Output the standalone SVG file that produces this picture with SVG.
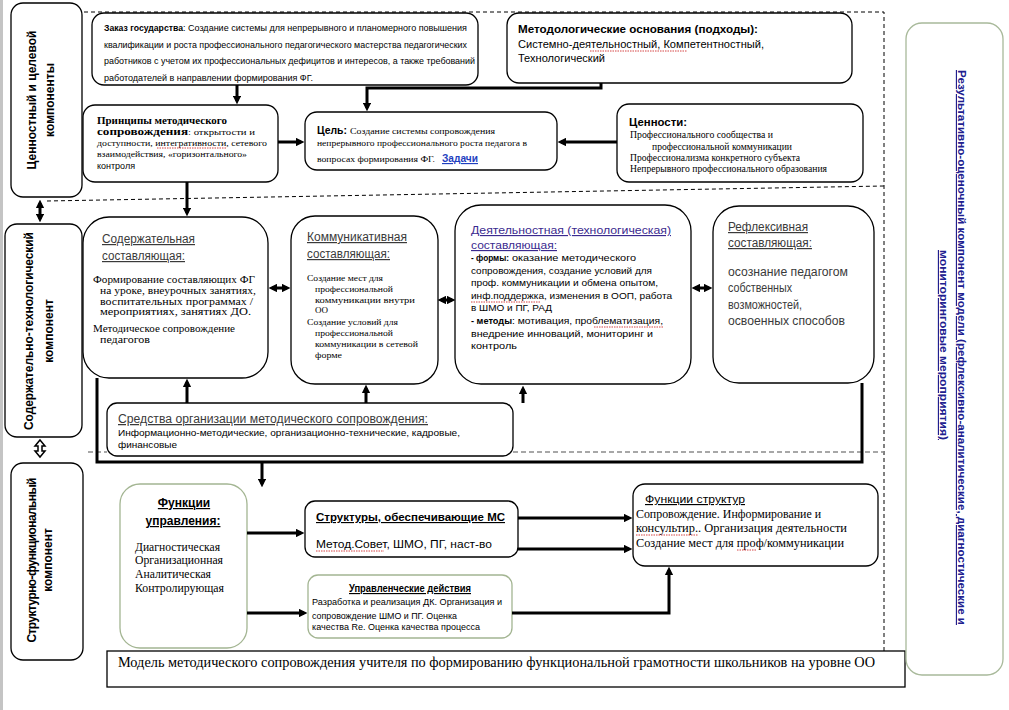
<svg xmlns="http://www.w3.org/2000/svg" width="1009" height="710" viewBox="0 0 1009 710">
<style>
.box{fill:#fff;stroke:#000;stroke-width:1.3}
.gbox{fill:#fff;stroke:#a3b592;stroke-width:1.3}
.conn{stroke:#000;stroke-width:3;fill:none}
.dash{stroke:#000;stroke-width:1;stroke-dasharray:4 3;fill:none}
.gdash{stroke:#8a8a8a;stroke-width:1.5;stroke-dasharray:5 3;fill:none}
.sq{stroke:#d03030;stroke-width:0.9;stroke-dasharray:1.5 1;fill:none}
text{font-family:"Liberation Sans",Arial,sans-serif;fill:#000}
.r{font-family:"Liberation Serif","Times New Roman",serif}
.b{font-weight:bold}
.u{text-decoration:underline}
.gr{fill:#3a3a3a}
</style>
<defs>
<marker id="ah" viewBox="0 0 10 10" refX="6" refY="5" markerWidth="2.8" markerHeight="2.8" orient="auto-start-reverse" markerUnits="strokeWidth"><path d="M0,0 L10,5 L0,10 z" fill="#000"/></marker>
</defs>
<rect x="0" y="0" width="3" height="710" fill="#c4c4c4"/>

<!-- section dividers -->
<g id="dividers">
<path class="dash" d="M70,12 H884 V651"/>
<path class="dash" d="M47,201 L884,186"/>
<path class="gdash" d="M88,452 H107 M513,452 H884"/>
</g>

<!-- left component labels -->
<g id="n-left1"><rect class="box" x="11" y="3" width="71" height="194" rx="12"/>
<text class="b" font-size="12" text-anchor="middle" transform="translate(36,100) rotate(-90)">Ценностный и целевой</text>
<text class="b" font-size="12" text-anchor="middle" transform="translate(54,100) rotate(-90)">компоненты</text></g>
<g id="n-left2"><rect class="box" x="5" y="224" width="77" height="213" rx="12"/>
<text class="b" font-size="12" text-anchor="middle" textLength="198" transform="translate(33,331) rotate(-90)">Содержательно-технологический</text>
<text class="b" font-size="12" text-anchor="middle" transform="translate(53,331) rotate(-90)">компонент</text></g>
<g id="n-left3"><rect class="box" x="11" y="463" width="72" height="197" rx="12"/>
<text class="b" font-size="12" text-anchor="middle" textLength="165" transform="translate(36,560) rotate(-90)">Структурно-функциональный</text>
<text class="b" font-size="12" text-anchor="middle" transform="translate(52,560) rotate(-90)">компонент</text></g>

<!-- top row -->
<g id="n-zakaz"><rect class="box" x="92" y="13" width="386" height="72" rx="12"/>
<text class="b" x="104" y="31" font-size="9.5" textLength="79" lengthAdjust="spacingAndGlyphs">Заказ государства</text>
<text x="183" y="31" font-size="9.5" textLength="284" lengthAdjust="spacingAndGlyphs">: Создание системы для непрерывного и планомерного повышения</text>
<text x="104" y="48" font-size="9.5" textLength="363" lengthAdjust="spacingAndGlyphs">квалификации и роста профессионального педагогического мастерства педагогических</text>
<text x="104" y="64" font-size="9.5" textLength="371" lengthAdjust="spacingAndGlyphs">работников с учетом их профессиональных дефицитов и интересов, а также требований</text>
<text x="104" y="81" font-size="9.5" textLength="209" lengthAdjust="spacingAndGlyphs">работодателей в направлении формирования ФГ.</text></g>

<g id="n-metod"><rect class="box" x="507" y="13" width="345" height="70" rx="12"/>
<text class="b" x="518" y="33" font-size="11.5" textLength="240" lengthAdjust="spacingAndGlyphs">Методологические основания  (подходы):</text>
<text x="518" y="48" font-size="11" textLength="246" lengthAdjust="spacingAndGlyphs">Системно-деятельностный,  Компетентностный,</text>
<text x="518" y="62" font-size="11" textLength="87" lengthAdjust="spacingAndGlyphs">Технологический</text>
<path class="sq" d="M590,51 H687"/></g>

<g id="n-princip"><rect class="box" x="83" y="105" width="195" height="77" rx="12"/>
<text class="r b" x="97" y="124" font-size="10.5" textLength="130" lengthAdjust="spacingAndGlyphs">Принципы методического</text>
<text class="r b" x="97" y="135" font-size="10.5" textLength="91" lengthAdjust="spacingAndGlyphs">сопровождения</text>
<text class="r" x="188" y="135" font-size="9" textLength="67" lengthAdjust="spacingAndGlyphs">:  открытости и</text>
<text class="r" x="97" y="146" font-size="9" textLength="170" lengthAdjust="spacingAndGlyphs">доступности,  интегративности,  сетевого</text>
<text class="r" x="97" y="157" font-size="9" textLength="150" lengthAdjust="spacingAndGlyphs">взаимодействия, «горизонтального»</text>
<text x="97" y="169" font-size="8.5" textLength="38" lengthAdjust="spacingAndGlyphs">контроля</text>
<path class="sq" d="M157,148 H226"/></g>

<g id="n-cel"><rect class="box" x="305" y="112" width="252" height="58" rx="12"/>
<text class="b" x="317" y="134" font-size="11.5" textLength="30" lengthAdjust="spacingAndGlyphs">Цель:</text>
<text class="r" x="350" y="134" font-size="9" textLength="145" lengthAdjust="spacingAndGlyphs">Создание системы  сопровождения</text>
<text class="r" x="317" y="146" font-size="9" textLength="210" lengthAdjust="spacingAndGlyphs">непрерывного профессионального роста педагога в</text>
<text class="r" x="317" y="162" font-size="9" textLength="118" lengthAdjust="spacingAndGlyphs">вопросах формирования ФГ.</text>
<text class="b u" x="442" y="162" font-size="11.5" fill="#1f3fbf" style="fill:#1f3fbf" textLength="36" lengthAdjust="spacingAndGlyphs">Задачи</text></g>

<g id="n-cennosti"><rect class="box" x="617" y="104" width="246" height="78" rx="12"/>
<text class="b" x="629" y="126" font-size="11.5" textLength="58" lengthAdjust="spacingAndGlyphs">Ценности:</text>
<text class="r" x="630" y="138" font-size="9.5" textLength="143" lengthAdjust="spacingAndGlyphs">Профессионального сообщества  и</text>
<text class="r" x="652" y="150" font-size="9.5" textLength="140" lengthAdjust="spacingAndGlyphs">профессиональной коммуникации</text>
<text class="r" x="630" y="161" font-size="9.5" textLength="170" lengthAdjust="spacingAndGlyphs">Профессионализма конкретного субъекта</text>
<text class="r" x="630" y="172" font-size="9.5" textLength="197" lengthAdjust="spacingAndGlyphs">Непрерывного профессионального образования</text></g>

<!-- middle row -->
<g id="n-soderzh"><rect class="box" x="83" y="217" width="185" height="161" rx="26"/>
<text class="u gr" x="102" y="243" font-size="12" textLength="93" lengthAdjust="spacingAndGlyphs">Содержательная</text>
<text class="u gr" x="102" y="260" font-size="12" textLength="83" lengthAdjust="spacingAndGlyphs">составляющая:</text>
<text class="r" x="93" y="283" font-size="10.5" textLength="162" lengthAdjust="spacingAndGlyphs">Формирование составляющих ФГ</text>
<text class="r" x="100" y="294" font-size="10.5" textLength="156" lengthAdjust="spacingAndGlyphs">на уроке, внеурочных занятиях,</text>
<text class="r" x="100" y="305" font-size="10.5" textLength="153" lengthAdjust="spacingAndGlyphs">воспитательных программах /</text>
<text class="r" x="100" y="315" font-size="10.5" textLength="151" lengthAdjust="spacingAndGlyphs">мероприятиях, занятиях ДО.</text>
<text class="r" x="93" y="332" font-size="10.5" textLength="142" lengthAdjust="spacingAndGlyphs">Методическое сопровождение</text>
<text class="r" x="100" y="343" font-size="10.5" textLength="50" lengthAdjust="spacingAndGlyphs">педагогов</text></g>

<g id="n-kommun"><rect class="box" x="291" y="216" width="147" height="168" rx="24"/>
<text class="u gr" x="307" y="241" font-size="12" textLength="100" lengthAdjust="spacingAndGlyphs">Коммуникативная</text>
<text class="u gr" x="307" y="258" font-size="12" textLength="83" lengthAdjust="spacingAndGlyphs">составляющая:</text>
<text class="r" x="307" y="281" font-size="8.8" textLength="76" lengthAdjust="spacingAndGlyphs">Создание мест для</text>
<text class="r" x="315" y="292" font-size="8.8" textLength="78" lengthAdjust="spacingAndGlyphs">профессиональной</text>
<text class="r" x="315" y="303" font-size="8.8" textLength="100" lengthAdjust="spacingAndGlyphs">коммуникации  внутри</text>
<text class="r" x="315" y="313" font-size="8.8" textLength="13" lengthAdjust="spacingAndGlyphs">ОО</text>
<text class="r" x="307" y="325" font-size="8.8" textLength="91" lengthAdjust="spacingAndGlyphs">Создание условий для</text>
<text class="r" x="315" y="336" font-size="8.8" textLength="78" lengthAdjust="spacingAndGlyphs">профессиональной</text>
<text class="r" x="315" y="347" font-size="8.8" textLength="103" lengthAdjust="spacingAndGlyphs">коммуникации  в сетевой</text>
<text class="r" x="315" y="358" font-size="8.8" textLength="27" lengthAdjust="spacingAndGlyphs">форме</text></g>

<g id="n-deyat"><rect class="box" x="455" y="205" width="236" height="179" rx="26"/>
<text class="u" x="471" y="234" font-size="11.5" style="fill:#3b2a8f" textLength="200" lengthAdjust="spacingAndGlyphs">Деятельностная (технологическая)</text>
<text class="u" x="471" y="249" font-size="11.5" style="fill:#3b2a8f" textLength="86" lengthAdjust="spacingAndGlyphs">составляющая:</text>
<text class="b" x="471" y="261" font-size="9.8" textLength="38" lengthAdjust="spacingAndGlyphs">- формы:</text>
<text x="512" y="261" font-size="9.8" textLength="124" lengthAdjust="spacingAndGlyphs">оказание методического</text>
<text x="471" y="274" font-size="9.8" textLength="181" lengthAdjust="spacingAndGlyphs">сопровождения, создание условий для</text>
<text x="471" y="286" font-size="9.8" textLength="187" lengthAdjust="spacingAndGlyphs">проф. коммуникации и обмена опытом,</text>
<text x="471" y="299" font-size="9.8" textLength="201" lengthAdjust="spacingAndGlyphs">инф.поддержка, изменения в ООП, работа</text>
<text x="471" y="311" font-size="9.8" textLength="81" lengthAdjust="spacingAndGlyphs">в ШМО и ПГ, РАД</text>
<text class="b" x="471" y="324" font-size="9.8" textLength="41" lengthAdjust="spacingAndGlyphs">- методы</text>
<text x="512" y="324" font-size="9.8" textLength="151" lengthAdjust="spacingAndGlyphs">: мотивация, проблематизация,</text>
<text x="471" y="337" font-size="9.8" textLength="182" lengthAdjust="spacingAndGlyphs">внедрение инноваций, мониторинг и</text>
<text x="471" y="349" font-size="9.8" textLength="46" lengthAdjust="spacingAndGlyphs">контроль</text>
<path class="sq" d="M471,302 H541 M594,327 H663"/></g>

<g id="n-refl"><rect class="box" x="713" y="206" width="161" height="177" rx="26"/>
<text class="u gr" x="728" y="231" font-size="12" textLength="80" lengthAdjust="spacingAndGlyphs">Рефлексивная</text>
<text class="u gr" x="728" y="247" font-size="12" textLength="84" lengthAdjust="spacingAndGlyphs">составляющая:</text>
<text class="gr" x="728" y="276" font-size="12.5" textLength="120" lengthAdjust="spacingAndGlyphs">осознание педагогом</text>
<text class="gr" x="728" y="292" font-size="12.5" textLength="64" lengthAdjust="spacingAndGlyphs">собственных</text>
<text class="gr" x="728" y="309" font-size="12.5" textLength="74" lengthAdjust="spacingAndGlyphs">возможностей,</text>
<text class="gr" x="728" y="325" font-size="12.5" textLength="117" lengthAdjust="spacingAndGlyphs">освоенных способов</text></g>

<g id="n-sredstva"><rect class="box" x="107" y="403" width="406" height="53" rx="10"/>
<text class="u gr" x="118" y="423" font-size="12.5" textLength="310" lengthAdjust="spacingAndGlyphs">Средства организации методического сопровождения:</text>
<text x="118" y="436" font-size="9.5" textLength="342" lengthAdjust="spacingAndGlyphs">Информационно-методические, организационно-технические, кадровые,</text>
<text x="118" y="448" font-size="9.5" textLength="59" lengthAdjust="spacingAndGlyphs">финансовые</text></g>

<!-- bottom row -->
<g id="n-funkupr"><rect class="gbox" x="120" y="484" width="127" height="164" rx="20"/>
<text class="b u" x="184" y="507" font-size="12" text-anchor="middle">Функции</text>
<text class="b u" x="183" y="525" font-size="12" text-anchor="middle">управления:</text>
<text class="r" x="135" y="551" font-size="13" textLength="85" lengthAdjust="spacingAndGlyphs">Диагностическая</text>
<text class="r" x="135" y="564" font-size="13" textLength="88" lengthAdjust="spacingAndGlyphs">Организационная</text>
<text class="r" x="135" y="578" font-size="13" textLength="76" lengthAdjust="spacingAndGlyphs">Аналитическая</text>
<text class="r" x="135" y="592" font-size="13" textLength="89" lengthAdjust="spacingAndGlyphs">Контролирующая</text></g>

<g id="n-struct"><rect class="box" x="305" y="501" width="213" height="56" rx="10"/>
<text class="b u" x="316" y="521" font-size="11.5" textLength="189" lengthAdjust="spacingAndGlyphs">Структуры,  обеспечивающие  МС</text>
<text x="316" y="548" font-size="11.5" textLength="176" lengthAdjust="spacingAndGlyphs">Метод.Совет,  ШМО, ПГ, наст-во</text>
<path class="sq" d="M316,551 H384"/></g>

<g id="n-upravl"><rect class="gbox" x="308" y="575" width="204" height="63" rx="10"/>
<text class="b u" x="410" y="592" font-size="11.5" text-anchor="middle" textLength="122" lengthAdjust="spacingAndGlyphs">Управленческие действия</text>
<text x="312" y="605" font-size="8.8" textLength="190" lengthAdjust="spacingAndGlyphs">Разработка и реализация ДК. Организация и</text>
<text x="312" y="619" font-size="8.8" textLength="145" lengthAdjust="spacingAndGlyphs">сопровождение  ШМО и ПГ. Оценка</text>
<text x="312" y="630" font-size="8.8" textLength="168" lengthAdjust="spacingAndGlyphs">качества Re. Оценка качества процесса</text></g>

<g id="n-funkstr"><rect class="box" x="633" y="484" width="245" height="82" rx="12"/>
<text class="u" x="645" y="503" font-size="11.5" textLength="100" lengthAdjust="spacingAndGlyphs">Функции структур</text>
<text class="r" x="636" y="518" font-size="12.5" textLength="185" lengthAdjust="spacingAndGlyphs">Сопровождение.  Информирование и</text>
<text class="r" x="636" y="532" font-size="12.5" textLength="211" lengthAdjust="spacingAndGlyphs">консультир..  Организация  деятельности</text>
<text class="r" x="636" y="547" font-size="12.5" textLength="208" lengthAdjust="spacingAndGlyphs">Создание мест для проф/коммуникации</text>
<path class="sq" d="M636,535 H698 M737,550 H757"/></g>

<g id="n-model"><rect x="107" y="651" width="798" height="36" fill="#fff" stroke="#000" stroke-width="1.3"/>
<text class="r" x="118" y="667" font-size="14" textLength="757" lengthAdjust="spacingAndGlyphs">Модель методического  сопровождения учителя по формированию функциональной грамотности школьников на уровне ОО</text></g>

<g id="n-result"><rect class="gbox" x="906" y="23" width="97" height="652" rx="16" style="stroke:#a8b99a"/>
<text class="b u" font-size="11.5" style="fill:#20208f" textLength="555" lengthAdjust="spacingAndGlyphs" transform="translate(958,70) rotate(90)">Результативно-оценочный  компонент модели (рефлексивно-аналитические,  диагностические  и</text>
<text class="b u" font-size="11.5" style="fill:#20208f" textLength="190" lengthAdjust="spacingAndGlyphs" transform="translate(940,250) rotate(90)">мониторинговые  мероприятия)</text></g>

<!-- connectors -->
<g id="connectors">
<path class="conn" d="M237,85 V101" marker-end="url(#ah)"/>
<path class="conn" d="M601,83 V88 H367 V108" marker-end="url(#ah)"/>
<path class="conn" d="M278,142 H301" marker-end="url(#ah)"/>
<path class="conn" d="M617,142 H561" marker-end="url(#ah)"/>
<path class="conn" d="M187,182 V213" marker-end="url(#ah)"/>
<path class="conn" d="M40,203 V219" marker-start="url(#ah)" marker-end="url(#ah)"/>
<path d="M40,440 L45,446 L42,446 L42,451 L45,451 L40,457 L35,451 L38,451 L38,446 L35,446 Z" fill="#fff" stroke="#000" stroke-width="1.5"/>
<path class="conn" d="M272,288 H287" stroke-width="2.5" marker-start="url(#ah)" marker-end="url(#ah)"/>
<path class="conn" d="M441,300 H452" stroke-width="2.2" marker-start="url(#ah)" marker-end="url(#ah)"/>
<path class="conn" d="M695,288 H709" stroke-width="2.5" marker-start="url(#ah)" marker-end="url(#ah)"/>
<path class="conn" d="M187,403 V382" marker-end="url(#ah)"/>
<path class="conn" d="M366,403 V388" marker-end="url(#ah)"/>
<path class="conn" d="M523,403 V389" marker-end="url(#ah)"/>
<path class="conn" d="M97,378 V462 H862 V383"/>
<path class="conn" d="M262,462 V484" marker-end="url(#ah)"/>
<path class="conn" d="M247,533 H301" marker-end="url(#ah)"/>
<path class="conn" d="M247,613 H304" marker-end="url(#ah)"/>
<path class="conn" d="M518,518 H629" marker-end="url(#ah)"/>
<path class="conn" d="M518,549 H629" marker-end="url(#ah)"/>
<path class="conn" d="M512,613 H669 V570" marker-end="url(#ah)"/>
</g>
</svg>
